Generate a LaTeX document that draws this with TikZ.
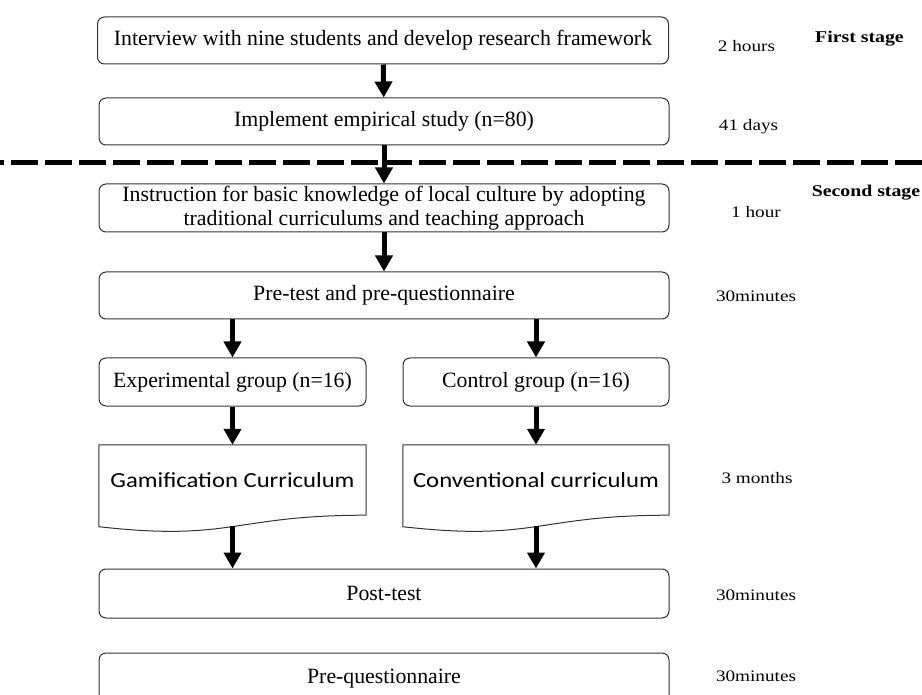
\documentclass[tikz,border=0pt]{standalone}
\usepackage{fontspec}
\setmainfont{Liberation Serif}
\newfontfamily\durfont[FakeStretch=1.2]{Liberation Serif}
\newfontfamily\curfont[FakeStretch=1.15]{Carlito}
\usetikzlibrary{arrows.meta,calc}

\begin{document}
\begin{tikzpicture}[x=1pt,y=-1pt,
  box/.style={draw=black!80,line width=1pt,rounded corners=7pt,minimum height=47pt,inner sep=0pt,align=center,font=\fontsize{21.8}{24}\selectfont},
  docbox/.style={minimum width=267pt,minimum height=70pt,inner sep=0pt,font=\curfont\fontsize{21.5}{26}\selectfont},
  arr/.style={line width=5pt,-{Triangle[length=16pt,width=17pt]}},
  dur/.style={font=\durfont\fontsize{16}{19}\selectfont},
  stg/.style={font=\durfont\bfseries\fontsize{16.5}{19}\selectfont}]
          \path[use as bounding box,clip] (0,0) rectangle (922,695);
          \draw[line width=5pt,dash pattern=on 27pt off 7pt,dash phase=23pt] (0,163)--(922,163);
          \node[box,minimum width=571pt] (intv) at (383,40.5) {Interview with nine students and develop research framework};
          \node[box,minimum width=570pt] (impl) at (384,121.5) {Implement empirical study (n=80)};
          \node[box,minimum width=570pt,minimum height=48pt] (instr) at (384,208) {Instruction for basic knowledge of local culture by adopting\\traditional curriculums and teaching approach};
          \node[box,minimum width=570pt] (pre) at (384,295.5) {Pre-test and pre-questionnaire};
          \node[box,minimum width=267pt,minimum height=48pt] (exp) at (232.5,382) {Experimental group (n=16)};
          \node[box,minimum width=266pt,minimum height=48pt] (ctrl) at (536,382) {Control group (n=16)};
          \node[docbox] (gam) at (232.5,480) {Gamification Curriculum};
          \node[docbox,minimum width=266pt] (conv) at (536,480) {Conventional curriculum};
          \node[box,minimum width=570pt,minimum height=49pt] (post) at (384,593.5) {Post-test};
          \node[box,minimum width=570pt,minimum height=52pt] (preq) at (384,679) {Pre-questionnaire};
          \foreach \d in {gam,conv}
            \draw[draw=black!80,line width=1pt] (\d.north west)--(\d.north east)--(\d.south east)
              .. controls (\d.south) and ($(\d.south)+(0,26.6)$) .. ($(\d.south west)+(0,11.5)$)--cycle;
          \foreach \a/\b in {intv/impl,impl/instr,instr/pre,exp/gam,ctrl/conv} \draw[arr] (\a)--(\b);
          \foreach \b in {exp,ctrl} \draw[arr] (pre.south -| \b)--(\b);
          \foreach \d in {gam,conv} \draw[arr] ($(\d.south)+(0,11)$)--(post.north -| \d.south);
          \foreach \x/\y/\t in {746.5/46.5/2 hours,748.5/127/41 days,756/212/1 hour,756/296/30minutes,757/478/3 months,756/595/30minutes,756/676/30minutes}
            \node[dur] (d\y) at (\x,\y) {\t};
          \node[stg] (first) at (859.5,38.5) {First stage};
          \node[stg] (second) at (866,193) {Second stage};
        \end{tikzpicture}
\end{document}
